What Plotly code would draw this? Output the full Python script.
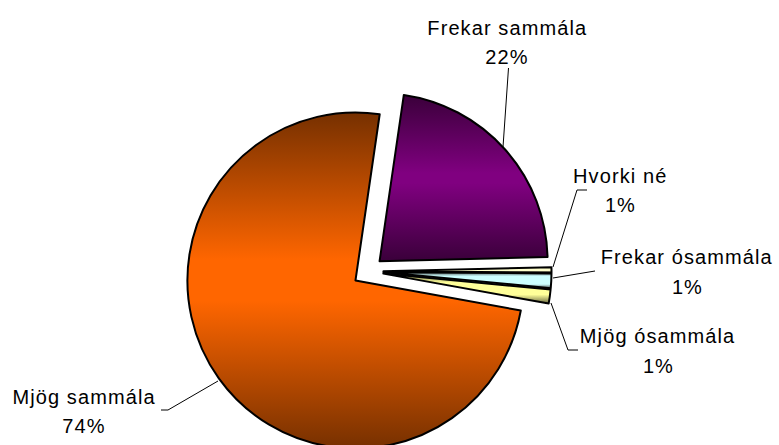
import plotly.graph_objects as go

# Data, clockwise from the pie's start angle
labels = ["Frekar sammála", "Hvorki né", "Frekar ósammála", "Mjög ósammála", "Mjög sammála"]
values = [22.3, 0.5, 1.4, 1.35, 74.45]
percent_text = ["22%", "1%", "1%", "1%", "74%"]
start_angle = 8.3
explode = 0.092

# Style
gradient_edges = ["#3a003a", "#666652", "#525c5c", "#666640", "#763000"]
gradient_mids = ["#800080", "#ffffcc", "#ccffff", "#ffff99", "#ff6600"]
gradient_bands = [0.03, 0.25, 0.25, 0.2, 0.06]

# Layout, in pixels
W, H = 779, 455
TOP = 88
CX, R_OUT = 368, 183.5
label_x = [507, 620, 687, 658, 84]
label_y1 = [28, 176, 257, 336, 397]
label_y2 = [57, 205, 287, 366, 426]
leaders = [
    [(508.5, 68), (503, 147)],
    [(587, 190), (577, 190), (553, 267)],
    [(595, 271), (553, 278)],
    [(578, 350), (568, 350), (551, 303)],
    [(161, 410), (168, 410), (218, 381)],
]

def px(x):
    return x / W

def py(y):
    return 1 - (y - TOP) / (H - TOP)

fig = go.Figure(go.Pie(
    labels=labels, values=values, sort=False, direction="clockwise",
    rotation=start_angle, pull=explode, textinfo="none", hoverinfo="skip",
    showlegend=False,
    marker=dict(colors=gradient_mids, line=dict(color="#000000", width=2)),
    domain=dict(x=[(CX - R_OUT) / W, (CX + R_OUT) / W], y=[0, 1]),
))

for name, pct, x, y1, y2 in zip(labels, percent_text, label_x, label_y1, label_y2):
    for text, y in ((name, y1), (pct, y2)):
        fig.add_annotation(text=text, x=px(x), y=py(y), xref="paper", yref="paper",
                           showarrow=False, xanchor="center", yanchor="middle",
                           font=dict(family="Liberation Sans, Arial, sans-serif", size=20, color="#000000"))

shapes = []
for pts in leaders:
    for (x0, y0), (x1, y1) in zip(pts, pts[1:]):
        shapes.append(dict(type="line", xref="paper", yref="paper",
                           x0=px(x0), y0=py(y0), x1=px(x1), y1=py(y1),
                           line=dict(color="#000000", width=1)))

fig.update_layout(width=W, height=H, margin=dict(l=0, r=0, t=TOP, b=0),
                  paper_bgcolor="#ffffff", plot_bgcolor="#ffffff", shapes=shapes)

post = """
document.documentElement.style.overflow='hidden';
document.body.style.overflow='hidden';
document.body.style.margin='0';
var gd=document.getElementById('{plot_id}');
var E=%s, M=%s, B=%s;
function paint(){
  var svg=gd.querySelector('.main-svg'); var defs=svg.querySelector('defs');
  var NS='http://www.w3.org/2000/svg';
  gd.querySelectorAll('g.slice path.surface').forEach(function(p,i){
    var id='slicegrad'+i;
    if(!document.getElementById(id)){
      var g=document.createElementNS(NS,'linearGradient');
      g.setAttribute('id',id);g.setAttribute('x1','0');g.setAttribute('y1','0');g.setAttribute('x2','0');g.setAttribute('y2','1');
      [[0,E[i]],[0.5-B[i],M[i]],[0.5+B[i],M[i]],[1,E[i]]].forEach(function(s){
        var st=document.createElementNS(NS,'stop');
        st.setAttribute('offset',s[0]);st.setAttribute('stop-color',s[1]);g.appendChild(st);
      });
      defs.appendChild(g);
    }
    p.style.fill='url(#'+id+')';
  });
  gd.querySelectorAll('.annotation-text').forEach(function(t){t.style.letterSpacing='1.1px';});
}
paint();
gd.on('plotly_afterplot',paint);
""" % (str(gradient_edges), str(gradient_mids), str(gradient_bands))

fig.write_html("out.html", post_script=post, config=dict(displayModeBar=False))
